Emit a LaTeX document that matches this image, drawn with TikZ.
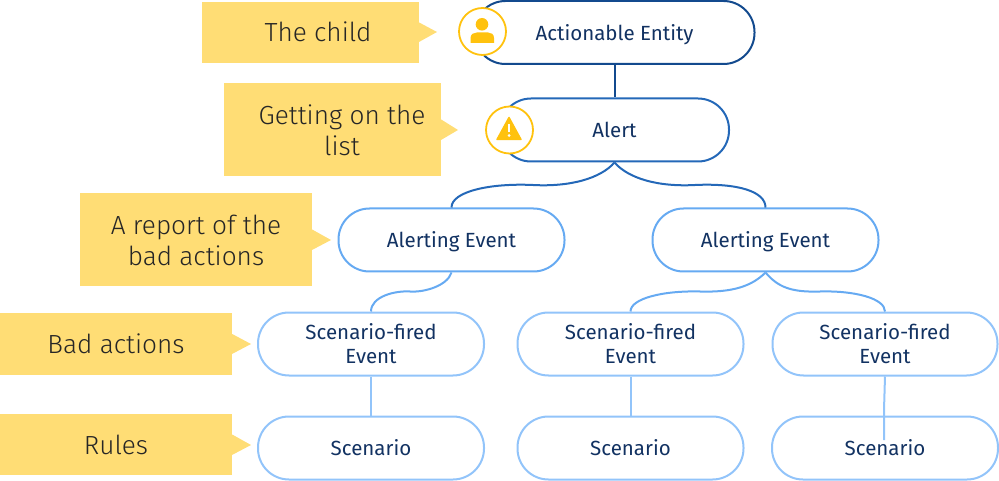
\documentclass[tikz,border=0pt]{standalone}
\usepackage{fontspec}
\setmainfont{Fira Sans}
\newfontfamily\lightfont{Fira Sans Light}
\usepackage{tikz}
\definecolor{navy}{HTML}{123262}
\definecolor{lineA}{HTML}{134A8E}
\definecolor{lineB}{HTML}{2468B8}
\definecolor{lineC}{HTML}{66AAF2}
\definecolor{lineD}{HTML}{92C4FA}
\definecolor{labelfill}{HTML}{FFDD75}
\definecolor{iconfill}{HTML}{FFC20E}
\tikzset{
  pill/.style={draw=#1, fill=white, line width=2pt, rounded corners=31pt, minimum height=63pt,
    minimum width=226pt, text=navy, font=\fontsize{20.5}{24}\selectfont, align=center, inner sep=0pt},
  flat/.style={text depth=0pt},
  tag/.style={fill=labelfill, inner sep=0pt, text=black!85, font=\lightfont\fontsize{26.2}{31}\selectfont, align=center},
  badge/.style={circle, draw=iconfill, fill=white, line width=1.8pt, minimum size=47pt, inner sep=0pt},
  link/.style={draw=#1, line width=2pt}
}
\begin{document}
\begin{tikzpicture}[x=1pt,y=1pt]
\useasboundingbox (0,0) rectangle (999,-481);
% labels on the left
\node [tag, minimum width=217pt, minimum height=61pt] (tagChild) at (310.5,-32.5) {};
\node [tag, minimum width=217pt, minimum height=93pt] (tagList) at (332.5,-129.5) {};
\node [tag, minimum width=232pt, minimum height=93pt] (tagReport) at (196,-239.5) {};
\node [tag, minimum width=232pt, minimum height=62pt] (tagBad) at (116,-344) {};
\node [tag, minimum width=232pt, minimum height=61pt] (tagRules) at (116,-444.5) {};
\fill [labelfill] (tagChild.east) ++(0,10) -- (437,-32) -- ++(-18,-10) -- cycle;
\fill [labelfill] (tagList.east) ++(0,10) -- (458,-130) -- ++(-17,-10) -- cycle;
\fill [labelfill] (tagReport.east) ++(0,10) -- (331,-240) -- ++(-19,-10) -- cycle;
\fill [labelfill] (tagBad.east) ++(0,10) -- (251,-344) -- ++(-19,-10) -- cycle;
\fill [labelfill] (tagRules.east) ++(0,10) -- (251,-445) -- ++(-19,-10) -- cycle;
\node [tag] (txtChild) at (318,-32) {The child};
\node [tag] (txtList) at (342,-130) {Getting on the\\list};
\node [tag] (txtReport) at (196,-240) {A report of the\\bad actions};
\node [tag] (txtBad) at (116,-344) {Bad actions};
\node [tag] (txtRules) at (116,-445) {Rules};
% boxes
\node [pill=lineA, flat, minimum width=280pt] (entity) at (614.5,-32.5) {Actionable Entity};
\node [pill=lineB, minimum width=229pt] (alert) at (614.5,-130) {Alert};
\node [pill=lineC, flat] (eventA) at (451.5,-240) {Alerting Event};
\node [pill=lineC, flat] (eventB) at (765.5,-240) {Alerting Event};
\node [pill=lineD] (firedA) at (371,-344) {Scenario-fired\\Event};
\node [pill=lineD] (firedB) at (630.5,-344) {Scenario-fired\\Event};
\node [pill=lineD, minimum width=225pt] (firedC) at (885,-344) {Scenario-fired\\Event};
\node [pill=lineD] (ruleA) at (371,-448) {Scenario};
\node [pill=lineD] (ruleB) at (630.5,-448) {Scenario};
\node [pill=lineD] (ruleC) at (885,-448) {Scenario};
% connectors
\coordinate (midA) at (533,-185);
\coordinate (midB) at (695,-185);
\coordinate (midC) at (410,-291.5);
\coordinate (midD) at (700,-291.5);
\coordinate (midE) at (820,-291.5);
\coordinate (bendC) at (884,-410);
\coordinate (endC) at (884,-440);
\draw [link=lineA] (entity.south) -- (alert.north);
\draw [link=lineB] (alert.south) .. controls +(-14,-16) and +(37,-2) .. (midA) .. controls +(-43,2) and +(0,16) .. (eventA.north);
\draw [link=lineB] (alert.south) .. controls +(14,-16) and +(-37,-2) .. (midB) .. controls +(43,2) and +(0,16) .. (eventB.north);
\draw [link=lineC] (eventA.south) .. controls +(-4,-13) and +(15,-1) .. (midC) .. controls +(-15,1) and +(0,15) .. (firedA.north);
\draw [link=lineC] (eventB.south) .. controls +(-14,-14) and +(32,-1) .. (midD) .. controls +(-37,1) and +(0,13) .. (firedB.north);
\draw [link=lineC] (eventB.south) .. controls +(12,-14) and +(-30,-1) .. (midE) .. controls +(35,1) and +(0,13) .. (firedC.north);
\draw [link=lineD] (firedA.south) -- (ruleA.north);
\draw [link=lineD] (firedB.south) -- (ruleB.north);
\draw [link=lineD] (firedC.south) -- (bendC) -- (endC);
% icons
\node [badge] (iconChild) at (482.5,-31.5) {};
\node [badge] (iconAlert) at (509.5,-130) {};
\fill [iconfill] (iconChild.center) ++(-0.5,7.2) circle (6.3);
\fill [iconfill] (470.5,-43) -- (470.5,-38) .. controls (470.5,-34) and (474,-32.5) .. (477,-32.5) -- (488,-32.5) .. controls (491,-32.5) and (494,-34) .. (494,-38) -- (494,-43) -- cycle;
\fill [iconfill, draw=iconfill, line width=1.5pt, line join=round] (509,-117.5) -- (521,-139.5) -- (497,-139.5) -- cycle;
\fill [white] (507.8,-124) rectangle (510.4,-132.5);
\fill [white] (509.1,-135.5) circle (1.6);
\end{tikzpicture}
\end{document}
